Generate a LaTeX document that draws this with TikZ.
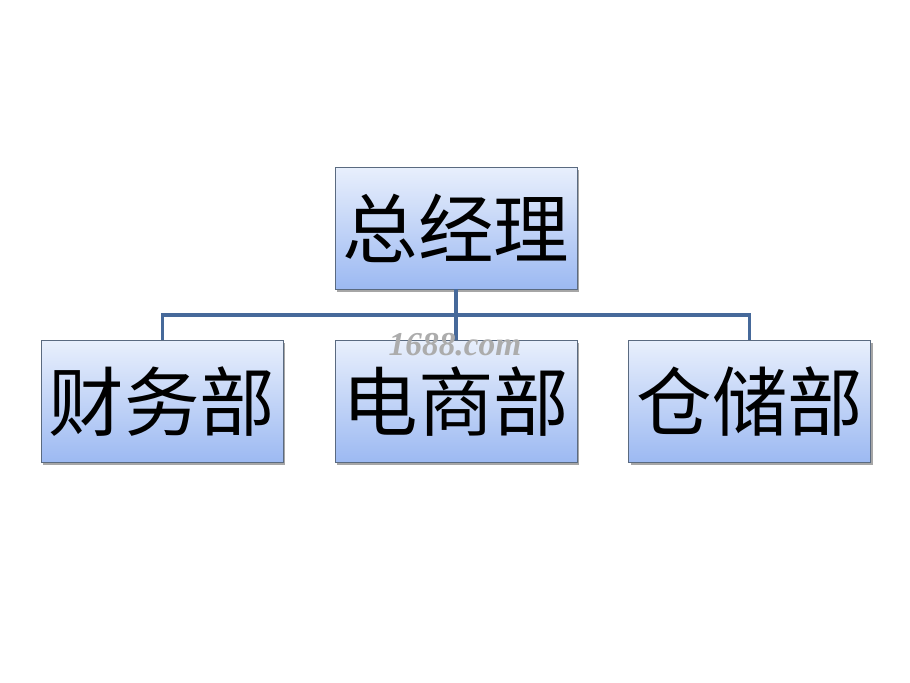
\documentclass[tikz,border=0pt]{standalone}
\usepackage{fontspec}
\newfontfamily\cjk{Noto Sans CJK SC}
\setmainfont{Liberation Serif}
\usepackage{xcolor}
\definecolor{cTop}{HTML}{E8EFFC}
\definecolor{cBottom}{HTML}{9CB9F2}
\definecolor{cEdge}{HTML}{5A6A80}
\definecolor{cLink}{HTML}{46699A}
\usepackage{tikz}
\usetikzlibrary{positioning,calc,shadows}
\tikzset{
  org-box/.style={draw=cEdge,line width=0.5pt,top color=cTop,bottom color=cBottom,
    minimum width=4.84cm,minimum height=2.44cm,inner sep=0pt,
    font=\cjk\fontsize{43}{50}\selectfont,
    drop shadow={shadow xshift=1pt,shadow yshift=-1.5pt,opacity=0.35,fill=black}},
  org-link/.style={draw=cLink,line width=1.8pt},
  mark-text/.style={font=\bfseries\itshape\fontsize{19}{21}\selectfont,text=gray!65},
}
\begin{document}
\begin{tikzpicture}[x=0.02cm,y=-0.02cm,node distance=1.02cm and 1.02cm]
  \useasboundingbox (0,0) rectangle (910,683);
  \node[org-box] (boss) at (456,228) {总经理};
  \node[org-box,below=of boss] (ecom) {电商部};
  \node[org-box,left=of ecom] (fin) {财务部};
  \node[org-box,right=of ecom] (store) {仓储部};
  \coordinate (bus) at ($(boss.south)!0.5!(ecom.north)$);
  \draw[org-link] (boss.south) -- (bus);
  \draw[org-link] (bus) -| (fin.north);
  \draw[org-link] (bus) -| (store.north);
  \draw[org-link] (bus) -- (ecom.north);
  % watermark
  \node[mark-text] (mark) at (455,345) {1688.com};
\end{tikzpicture}
\end{document}
